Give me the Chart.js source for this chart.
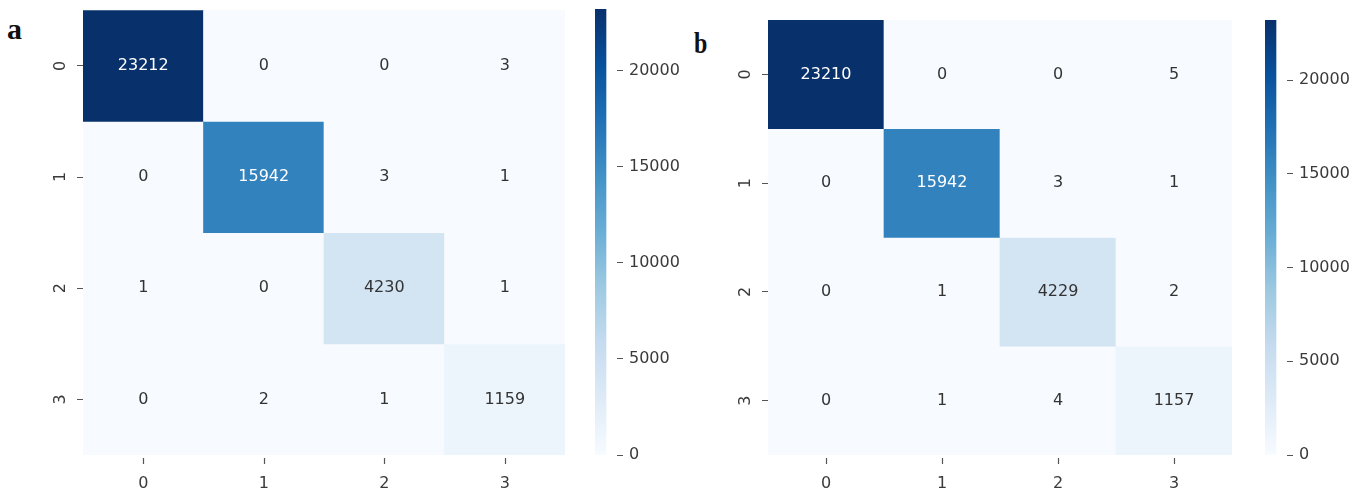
<!DOCTYPE html>
<html>
<head>
<meta charset="utf-8">
<script src="https://cdn.jsdelivr.net/npm/chart.js@4"></script>
<style>
    body { margin: 0; background: #fff; width: 1359px; height: 492px; position: relative; overflow: hidden; }
    .box { position: absolute; top: 0; height: 492px; }
    .tag { position: absolute; font-family: "Liberation Serif", serif; font-weight: bold; color: #111; }
</style>
</head>
<body>
<div class="tag" style="left:7px; top:12px; font-size:30px;">a</div>
<div class="tag" style="left:694px; top:26px; font-size:30px; transform:scaleX(0.8); transform-origin:left;">b</div>

<div class="box" style="left:0; width:570px;"><canvas id="heatA"></canvas></div>
<div class="box" style="left:595px; width:100px;"><canvas id="barA"></canvas></div>
<div class="box" style="left:685px; width:552px;"><canvas id="heatB"></canvas></div>
<div class="box" style="left:1265px; width:94px;"><canvas id="barB"></canvas></div>

<script>
// class labels (rows = true, columns = predicted)
const classLabels = ["0", "1", "2", "3"];

// confusion matrix, model a
const matrixA = [
    [23212, 0, 0, 3],
    [0, 15942, 3, 1],
    [1, 0, 4230, 1],
    [0, 2, 1, 1159]
];

// confusion matrix, model b
const matrixB = [
    [23210, 0, 0, 5],
    [0, 15942, 3, 1],
    [0, 1, 4229, 2],
    [0, 1, 4, 1157]
];

const colorbarTicks = [0, 5000, 10000, 15000, 20000];

// matplotlib "Blues" colormap stops
const blues = ["#f7fbff", "#deebf7", "#c6dbef", "#9ecae1", "#6baed6", "#4292c6", "#2171b5", "#08519c", "#08306b"];

const tickFont = { family: "DejaVu Sans", size: 16 };
const tickColor = "#3a3a3a";
const markColor = "#555";

function hexRgb(h) {
    return [1, 3, 5].map(i => parseInt(h.substr(i, 2), 16));
}

function bluesAt(t) {
    t = Math.min(1, Math.max(0, t));
    let pos = t * (blues.length - 1);
    let i = Math.min(Math.floor(pos), blues.length - 2);
    let f = pos - i;
    let a = hexRgb(blues[i]), b = hexRgb(blues[i + 1]);
    return a.map((v, k) => Math.round(v + (b[k] - v) * f));
}

function rgbStr(c) {
    return "rgb(" + c.join(",") + ")";
}

function isDark(c) {
    let lin = c.map(v => {
        v = v / 255;
        return v <= 0.03928 ? v / 12.92 : Math.pow((v + 0.055) / 1.055, 2.4);
    });
    return 0.2126 * lin[0] + 0.7152 * lin[1] + 0.0722 * lin[2] < 0.408;
}

// writes the counts in each cell, the rotated row labels and the column tick marks
const cellText = {
    id: "cellText",
    afterDraw(chart) {
        const ctx = chart.ctx;
        const matrix = chart.options.plugins.cellText.matrix;
        const vmax = Math.max(...matrix.flat());
        const area = chart.chartArea;
        const x = chart.scales.x;
        const y = chart.scales.y;
        ctx.save();
        ctx.font = "16px 'DejaVu Sans'";
        ctx.textAlign = "center";
        ctx.textBaseline = "middle";
        chart.data.datasets.forEach((ds, r) => {
            chart.getDatasetMeta(r).data.forEach((bar, c) => {
                let v = matrix[r][c];
                ctx.fillStyle = isDark(bluesAt(v / vmax)) ? "#ffffff" : "#333333";
                ctx.fillText(String(v), bar.x, (bar.y + bar.base) / 2);
            });
        });
        ctx.fillStyle = tickColor;
        classLabels.forEach((lab, i) => {
            ctx.save();
            ctx.translate(area.left - 22, y.getPixelForValue(i + 0.5));
            ctx.rotate(-Math.PI / 2);
            ctx.fillText(lab, 0, 0);
            ctx.restore();
        });
        // short column tick marks just under the grid
        const yBottom = y.getPixelForValue(classLabels.length);
        ctx.strokeStyle = markColor;
        ctx.lineWidth = 1.2;
        classLabels.forEach((lab, i) => {
            let px = Math.round(x.getPixelForValue(i)) + 0.5;
            ctx.beginPath();
            ctx.moveTo(px, yBottom + 3);
            ctx.lineTo(px, yBottom + 9);
            ctx.stroke();
        });
        ctx.restore();
    }
};

function makeHeatmap(id, matrix, topPad) {
    const vmax = Math.max(...matrix.flat());
    const datasets = matrix.map((row, r) => ({
        data: row.map(() => [r, r + 1]),
        backgroundColor: row.map(v => rgbStr(bluesAt(v / vmax))),
        borderWidth: 0,
        grouped: false,
        barPercentage: 1,
        categoryPercentage: 1
    }));

    new Chart(document.getElementById(id), {
        type: "bar",
        data: { labels: classLabels, datasets: datasets },
        plugins: [cellText],
        options: {
            responsive: true,
            maintainAspectRatio: false,
            animation: false,
            layout: { padding: { left: 0, top: topPad, right: 5, bottom: 0 } },
            plugins: {
                legend: { display: false },
                tooltip: { enabled: false },
                cellText: { matrix: matrix }
            },
            scales: {
                x: {
                    grid: { display: false, tickLength: 6 },
                    border: { display: false },
                    ticks: { font: tickFont, color: tickColor, padding: 13, maxRotation: 0 },
                    afterFit: s => { s.height = 37; }
                },
                y: {
                    min: 0,
                    max: 4,
                    reverse: true,
                    grid: { drawOnChartArea: false, drawTicks: true, tickLength: 6, color: markColor },
                    border: { display: false },
                    ticks: { callback: () => "" },
                    afterBuildTicks: s => { s.ticks = classLabels.map((l, i) => ({ value: i + 0.5 })); },
                    afterFit: s => { s.width = 83; }
                }
            }
        }
    });
}

function makeColorbar(id, matrix, topPad, axisWidth) {
    const vmax = Math.max(...matrix.flat());

    new Chart(document.getElementById(id), {
        type: "bar",
        data: {
            labels: [""],
            datasets: [{
                data: [vmax],
                borderWidth: 0,
                barPercentage: 1,
                categoryPercentage: 1,
                backgroundColor: function (context) {
                    const area = context.chart.chartArea;
                    if (!area) return blues[blues.length - 1];
                    const g = context.chart.ctx.createLinearGradient(0, area.bottom, 0, area.top);
                    blues.forEach((c, i) => g.addColorStop(i / (blues.length - 1), c));
                    return g;
                }
            }]
        },
        options: {
            responsive: true,
            maintainAspectRatio: false,
            animation: false,
            layout: { padding: { left: 0, top: topPad, right: 0, bottom: 37 } },
            plugins: { legend: { display: false }, tooltip: { enabled: false } },
            scales: {
                x: { display: false, offset: false },
                y: {
                    position: "right",
                    min: 0,
                    max: vmax,
                    grid: { drawOnChartArea: false, drawTicks: true, tickLength: 6, color: markColor },
                    border: { display: false },
                    ticks: { font: tickFont, color: tickColor, padding: 6, includeBounds: false, callback: v => String(v) },
                    afterBuildTicks: s => { s.ticks = colorbarTicks.map(v => ({ value: v })); },
                    afterFit: s => {
                        s.width = axisWidth;
                        s.paddingTop = 0;
                        s.paddingBottom = 0;
                    }
                }
            }
        }
    });
}

makeHeatmap("heatA", matrixA, 9);
makeColorbar("barA", matrixA, 9, 78);
makeHeatmap("heatB", matrixB, 20);
makeColorbar("barB", matrixB, 20, 72);
</script>
</body>
</html>
